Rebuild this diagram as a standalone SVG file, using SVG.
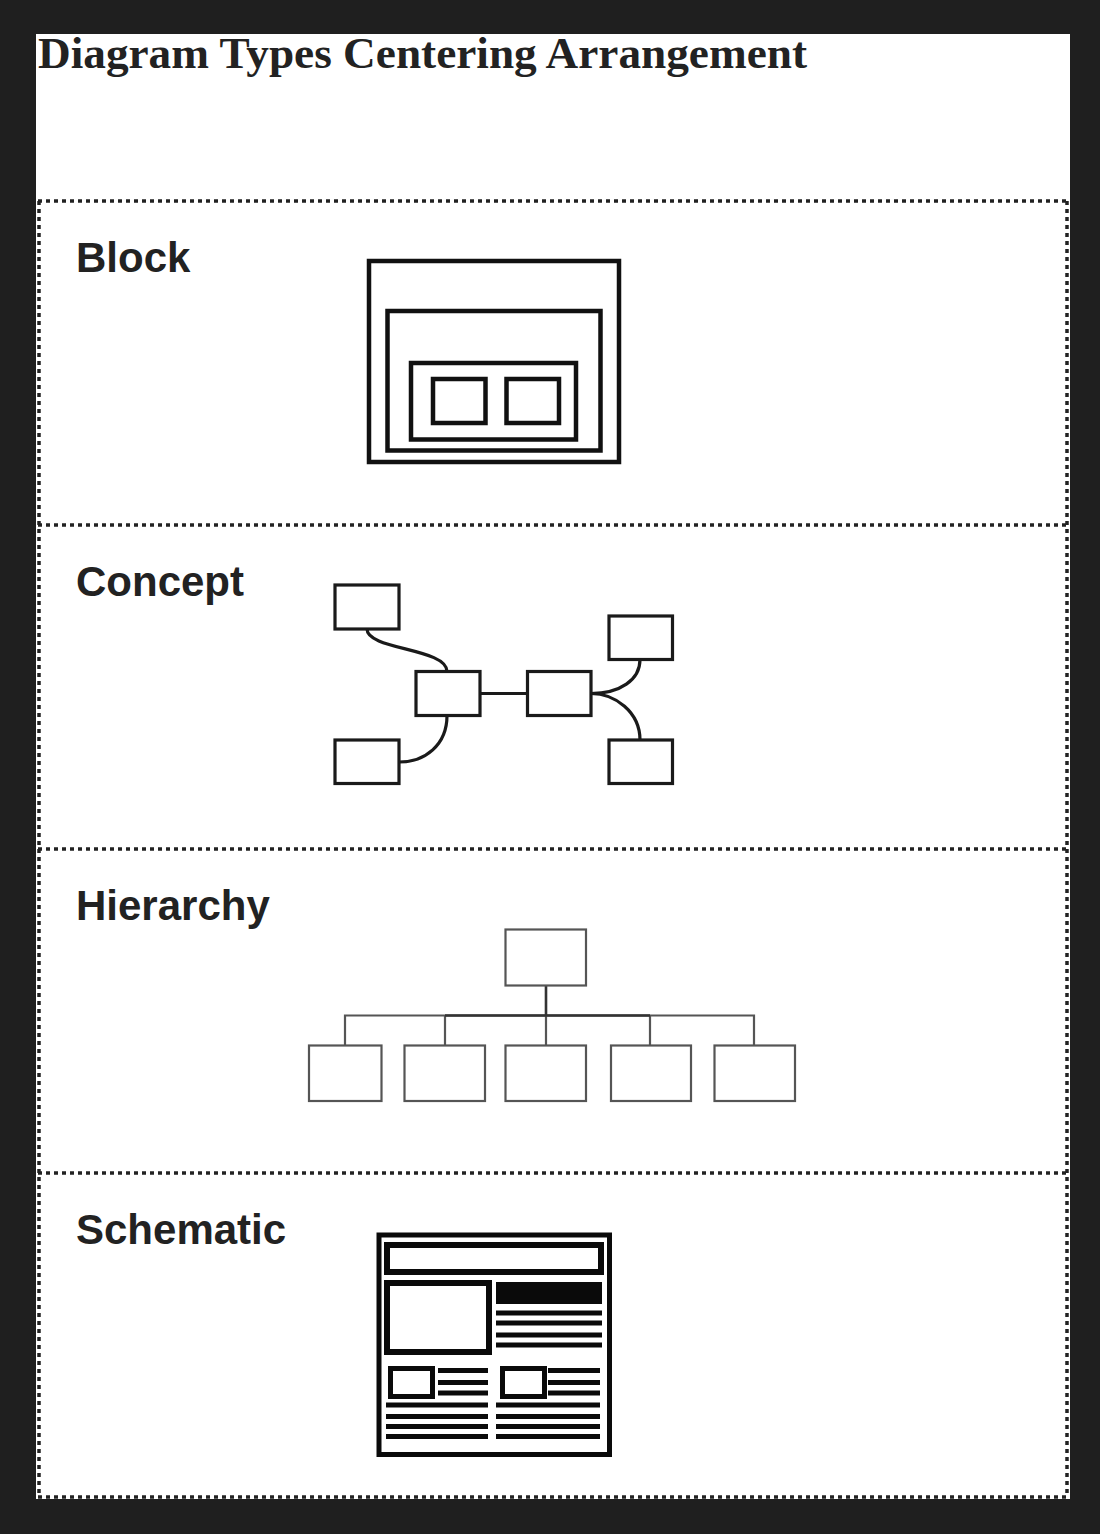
<svg xmlns="http://www.w3.org/2000/svg" width="1100" height="1534" viewBox="0 0 1100 1534">
  <style>
    .title { font-family: "Liberation Serif", "Times New Roman", serif; font-weight: bold; font-size: 45px; fill: #222; }
    .label { font-family: "Liberation Sans", Arial, sans-serif; font-weight: bold; font-size: 42px; fill: #222; }
    .dot { fill: none; stroke: #222; stroke-width: 3.5; stroke-dasharray: 4 4; }
    .blk { fill: none; stroke: #111; stroke-width: 4.5; }
    .cpt { fill: #fff; stroke: #1a1a1a; stroke-width: 3.2; }
    .cline { fill: none; stroke: #1a1a1a; stroke-width: 3.2; }
    .hbox { fill: #fff; stroke: #555; stroke-width: 2.2; }
    .hline { fill: none; stroke: #555; stroke-width: 2.2; }
    .hdark { fill: none; stroke: #333; stroke-width: 2.6; }
    .sch { fill: none; stroke: #0a0a0a; }
    .bar { fill: #0a0a0a; }
  </style>
  <rect x="0" y="0" width="1100" height="1534" fill="#1f1f1f"/>
  <rect x="36" y="34" width="1034" height="1465" fill="#fff"/>

  <g id="title">
    <text class="title" x="38" y="68" textLength="769" lengthAdjust="spacingAndGlyphs">Diagram Types Centering Arrangement</text>
  </g>

  <g id="borders">
    <line class="dot" x1="38" y1="201" x2="1068" y2="201"/>
    <line class="dot" x1="38" y1="525" x2="1068" y2="525"/>
    <line class="dot" x1="38" y1="849" x2="1068" y2="849"/>
    <line class="dot" x1="38" y1="1173" x2="1068" y2="1173"/>
    <line class="dot" x1="38" y1="1497" x2="1068" y2="1497"/>
    <line class="dot" x1="39" y1="201" x2="39" y2="1497"/>
    <line class="dot" x1="1067" y1="201" x2="1067" y2="1497"/>
  </g>

  <g id="block">
    <text class="label" x="76" y="272">Block</text>
    <rect class="blk" x="369" y="261" width="250" height="201"/>
    <rect class="blk" x="387.5" y="311" width="213" height="139.5"/>
    <rect class="blk" x="411" y="363" width="165" height="76.5"/>
    <rect class="blk" x="433" y="379" width="52.5" height="44"/>
    <rect class="blk" x="506.5" y="379" width="52.5" height="44"/>
  </g>

  <g id="concept">
    <text class="label" x="76" y="596">Concept</text>
    <g id="concept-connectors">
      <path class="cline" d="M367,629 C367,650 447,648 447,671.5"/>
      <path class="cline" d="M447,715.5 C447,745 425,762 399,762"/>
      <path class="cline" d="M480,693.5 L527.5,693.5"/>
      <path class="cline" d="M591,693.5 C620,693.5 640,680 640,659.5"/>
      <path class="cline" d="M591,693.5 C615,693.5 640,712 640,740"/>
    </g>
    <rect class="cpt" x="335" y="585" width="64" height="44"/>
    <rect class="cpt" x="416" y="671.5" width="64" height="44"/>
    <rect class="cpt" x="527.5" y="671.5" width="63.5" height="44"/>
    <rect class="cpt" x="609" y="616" width="63.5" height="43.5"/>
    <rect class="cpt" x="335" y="740" width="64" height="43.5"/>
    <rect class="cpt" x="609" y="740" width="63.5" height="43.5"/>
  </g>

  <g id="hierarchy">
    <text class="label" x="76" y="920">Hierarchy</text>
    <g id="hierarchy-connectors">
      <path class="hline" d="M345,1045.5 V1015.5 H754 V1045.5"/>
      <path class="hline" d="M445,1015.5 V1045.5 M650,1015.5 V1045.5 M546,1015.5 V1045.5"/>
      <path class="hdark" d="M546,985.5 V1015.5 M445,1015.5 H650"/>
    </g>
    <rect class="hbox" x="505.5" y="929.5" width="80.5" height="56"/>
    <rect class="hbox" x="309" y="1045.5" width="72.5" height="55.5"/>
    <rect class="hbox" x="404.5" y="1045.5" width="80.5" height="55.5"/>
    <rect class="hbox" x="505.5" y="1045.5" width="80.5" height="55.5"/>
    <rect class="hbox" x="611" y="1045.5" width="80" height="55.5"/>
    <rect class="hbox" x="714.5" y="1045.5" width="80.5" height="55.5"/>
  </g>

  <g id="schematic">
    <text class="label" x="76" y="1244">Schematic</text>
    <rect class="sch" stroke-width="5" x="379" y="1235" width="230.5" height="219.5"/>
    <rect class="sch" stroke-width="6" x="387" y="1245" width="214" height="27"/>
    <rect class="sch" stroke-width="6" x="387" y="1283" width="102" height="69"/>
    <rect class="bar" x="496" y="1282" width="106" height="22"/>
    <rect class="bar" x="496" y="1310.5" width="106" height="5"/>
    <rect class="bar" x="496" y="1320.5" width="106" height="5"/>
    <rect class="bar" x="496" y="1332.5" width="106" height="5"/>
    <rect class="bar" x="496" y="1342.5" width="106" height="5"/>
    <rect class="sch" stroke-width="5" x="390.5" y="1368.5" width="42" height="28"/>
    <rect class="sch" stroke-width="5" x="502.5" y="1368.5" width="42" height="28"/>
    <rect class="bar" x="438" y="1368" width="50" height="5"/>
    <rect class="bar" x="438" y="1380" width="50" height="5"/>
    <rect class="bar" x="438" y="1390.5" width="50" height="5"/>
    <rect class="bar" x="548" y="1368" width="52" height="5"/>
    <rect class="bar" x="548" y="1380" width="52" height="5"/>
    <rect class="bar" x="548" y="1390.5" width="52" height="5"/>
    <rect class="bar" x="386" y="1402.5" width="102" height="5"/>
    <rect class="bar" x="386" y="1414" width="102" height="5"/>
    <rect class="bar" x="386" y="1424" width="102" height="5"/>
    <rect class="bar" x="386" y="1434" width="102" height="5"/>
    <rect class="bar" x="496" y="1402.5" width="104" height="5"/>
    <rect class="bar" x="496" y="1414" width="104" height="5"/>
    <rect class="bar" x="496" y="1424" width="104" height="5"/>
    <rect class="bar" x="496" y="1434" width="104" height="5"/>
  </g>
</svg>
